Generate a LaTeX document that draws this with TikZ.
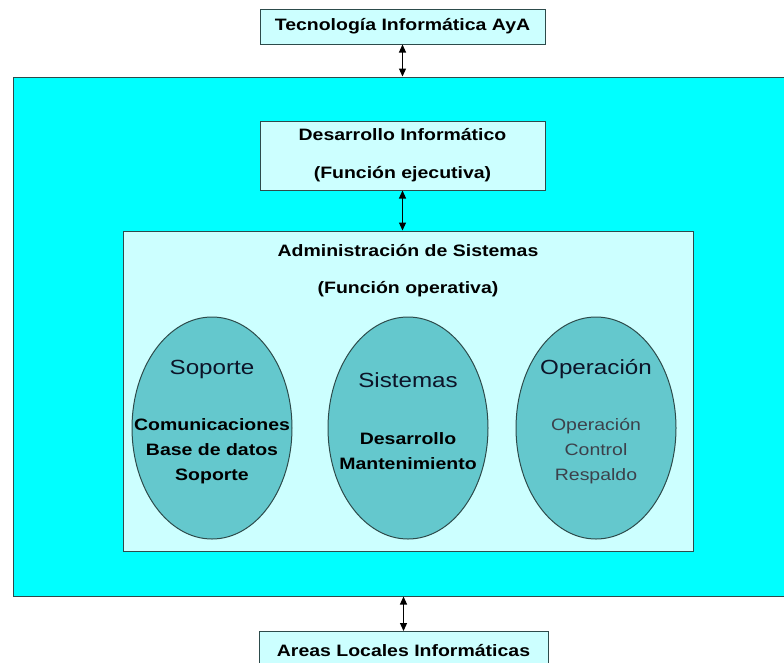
\documentclass[tikz,border=0pt]{standalone}
\usepackage{fontspec}
\setmainfont{Liberation Sans}[FakeStretch=1.18]
\usetikzlibrary{arrows.meta, shapes.geometric}
\definecolor{aqua}{RGB}{0,255,255}
\definecolor{paleaqua}{RGB}{204,255,255}
\definecolor{ovalfill}{RGB}{100,200,205}
\definecolor{edge}{RGB}{45,75,75}
\definecolor{titlecol}{RGB}{12,20,40}
\definecolor{itemgray}{RGB}{60,65,75}

\begin{document}
\begin{tikzpicture}[x=1pt, y=-1pt,
    box/.style={draw=edge, line width=1pt, fill=paleaqua, inner sep=0pt,
      align=center, font=\bfseries\fontsize{16.5}{20}\selectfont},
    heading/.style={font=\bfseries\fontsize{16.5}{20}\selectfont},
    oval/.style={ellipse, draw=edge, line width=1pt, fill=ovalfill,
      minimum width=160pt, minimum height=222pt, inner sep=0pt},
    ovtitle/.style={font=\fontsize{20.5}{24}\selectfont, text=titlecol},
    ovitem/.style={align=center, font=\bfseries\fontsize{16.5}{25}\selectfont},
    link/.style={{Triangle[length=8pt,width=7pt]}-{Triangle[length=8pt,width=7pt]},
      line width=1.2pt}]
  \useasboundingbox[fill=white] (0,0) rectangle (784,662);

  % Outer area
  \node[draw=edge, line width=1pt, fill=aqua, inner sep=0pt,
    minimum width=780pt, minimum height=519pt] (area) at (403,336.5) {};

  % Top and executive boxes
  \node[box, minimum width=285pt, minimum height=35pt] (tec) at (402.5,26.5)
    {Tecnología Informática AyA};
  \node[box, minimum width=285pt, minimum height=69pt] (dev) at (402.5,155.5)
    {Desarrollo Informático\\[18pt](Función ejecutiva)};

  % Operative box
  \node[draw=edge, line width=1pt, fill=paleaqua, inner sep=0pt,
    minimum width=570pt, minimum height=320pt] (adm) at (408,391) {};
  \node[heading] (admT) at (408,251) {Administración de Sistemas};
  \node[heading] (admF) at (408,289) {(Función operativa)};

  % Soporte
  \node[oval] (sop) at (212,428) {};
  \node[ovtitle] (sopT) at (212,369) {Soporte};
  \node[ovitem] (sopL) at (212,451) {Comunicaciones\\Base de datos\\Soporte};
  % Sistemas
  \node[oval] (sis) at (408,428) {};
  \node[ovtitle] (sisT) at (408,380) {Sistemas};
  \node[ovitem] (sisL) at (408,451) {Desarrollo\\Mantenimiento};
  % Operacion
  \node[oval] (ope) at (596,428) {};
  \node[ovtitle] (opeT) at (596,369) {Operación};
  \node[ovitem, font=\fontsize{16.5}{25}\selectfont, text=itemgray] (opeL)
    at (596,451) {Operación\\Control\\Respaldo};

  % Bottom box
  \node[box, anchor=north, minimum width=289pt, minimum height=38pt] (loc)
    at (403.5,631) {Areas Locales Informáticas};

  % Links
  \draw[link] (tec.south) -- (tec.south |- area.north);
  \draw[link] (dev.south) -- (dev.south |- adm.north);
  \draw[link] (area.south -| loc.north) -- (loc.north);
\end{tikzpicture}
\end{document}
